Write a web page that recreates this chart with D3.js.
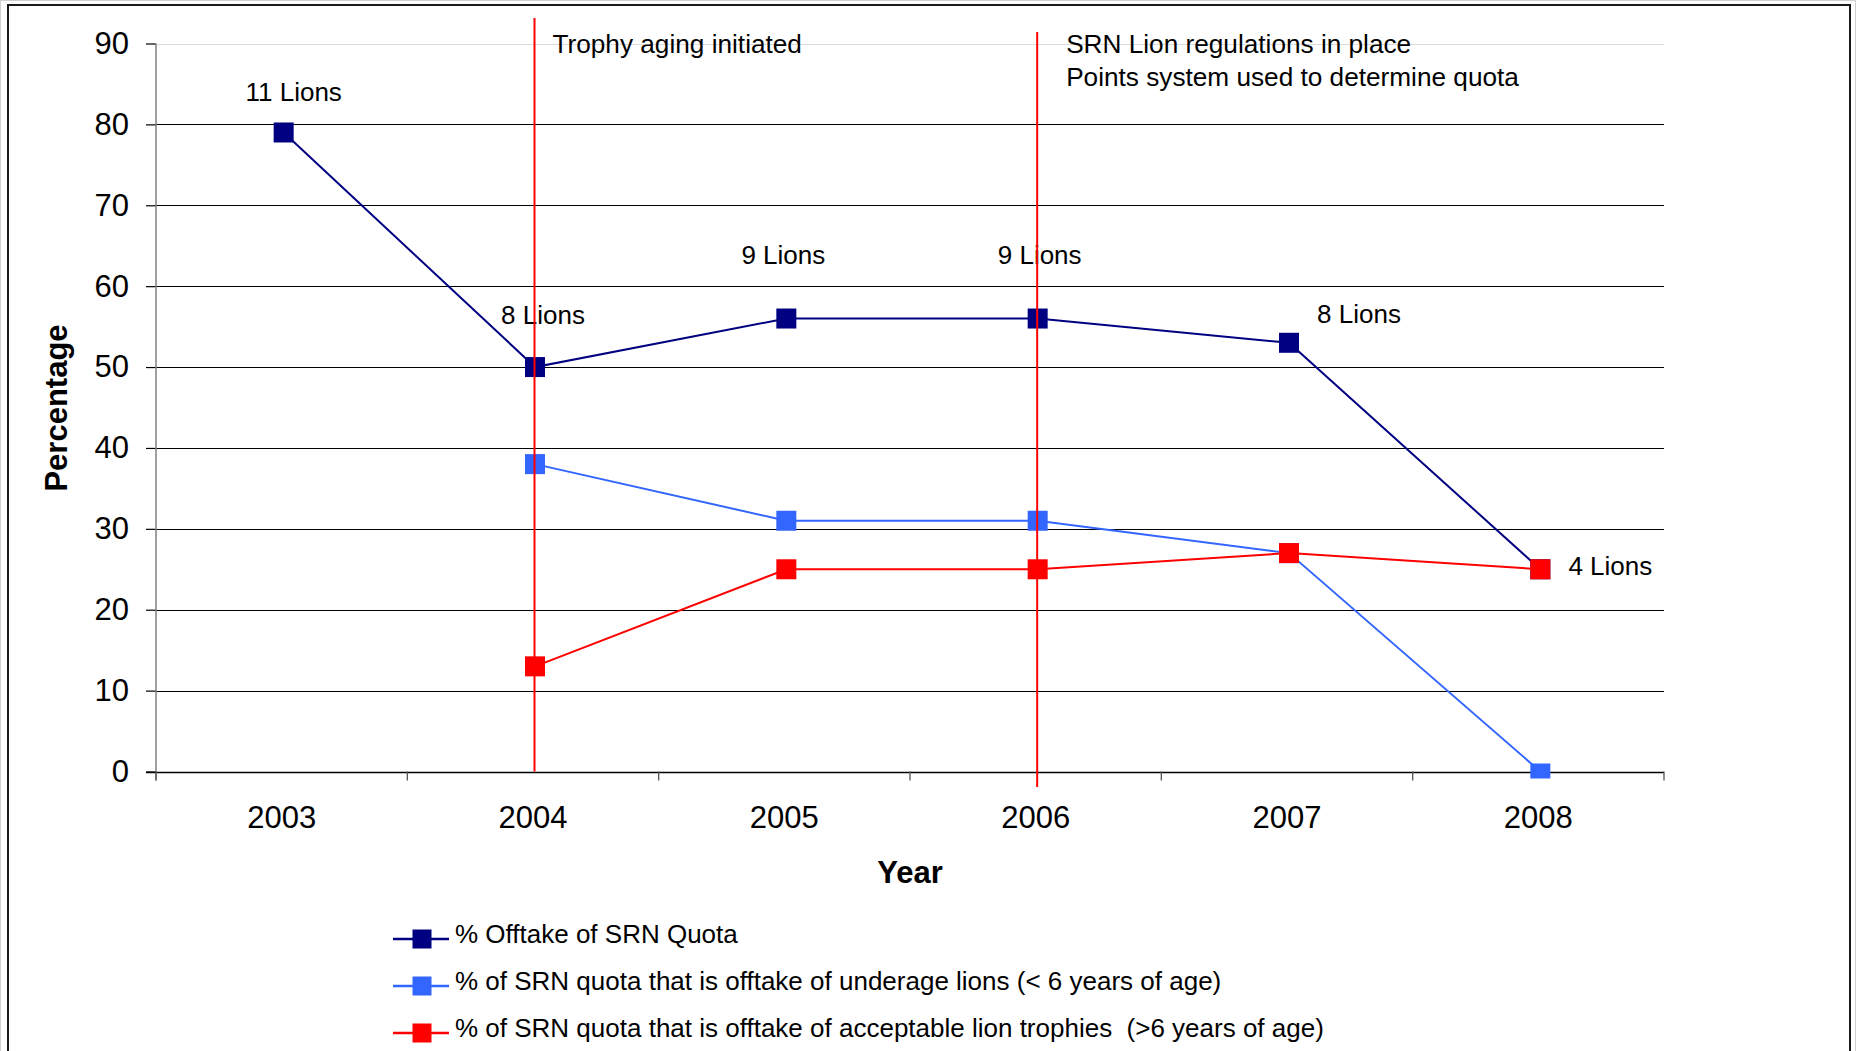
<!DOCTYPE html>
<html>
<head>
<meta charset="utf-8">
<script src="https://cdn.jsdelivr.net/npm/d3@7"></script>
<style>
  html, body { margin: 0; padding: 0; background: #fff; }
  svg { display: block; font-family: "Liberation Sans", Arial, sans-serif; }
  svg text { white-space: pre; }
</style>
</head>
<body>
<svg id="chart" width="1856" height="1051"></svg>
<script>
// ---- data ----
const years = ["2003", "2004", "2005", "2006", "2007", "2008"];
const yTicks = [0, 10, 20, 30, 40, 50, 60, 70, 80, 90];
const offtakeQuota = [79, 50, 56, 56, 53, 25];
const underageOfftake = [null, 38, 31, 31, 27, 0];
const trophyOfftake = [null, 13, 25, 25, 27, 25];
const lionCounts = ["11 Lions", "8 Lions", "9 Lions", "9 Lions", "8 Lions", "4 Lions"];
const seriesNames = [
  "% Offtake of SRN Quota",
  "% of SRN quota that is offtake of underage lions (< 6 years of age)",
  "% of SRN quota that is offtake of acceptable lion trophies  (>6 years of age)"
];
const eventYears = ["2004", "2006"];
const eventNotes = [["Trophy aging initiated"], ["SRN Lion regulations in place", "Points system used to determine quota"]];

(function () {
// ---- layout ----
const svg = d3.select("#chart");
const colors = ["#000080", "#3366FF", "#FF0000"];
const pLeft = 156, pRight = 1664, pTop = 43.5, pBottom = 771.5;
const markOff = 2;

const x = d3.scaleBand().domain(years).range([pLeft, pRight]).padding(0);
const cx = d => x(d) + x.bandwidth() / 2 + markOff;
const y = d3.scaleLinear().domain([0, 90]).range([pBottom, pTop]);

// frame
svg.append("rect").attr("x", 0.5).attr("y", 0.5).attr("width", 1855).attr("height", 1100)
  .attr("fill", "none").attr("stroke", "#d0d0d0").attr("stroke-width", 1);
svg.append("rect").attr("x", 8).attr("y", 5).attr("width", 1842).attr("height", 1100)
  .attr("fill", "none").attr("stroke", "#1a1a1a").attr("stroke-width", 2);

// gridlines
svg.append("g").selectAll("line").data(yTicks.filter(t => t > 0)).join("line")
  .attr("x1", pLeft).attr("x2", pRight)
  .attr("y1", d => Math.round(y(d)) + 0.5).attr("y2", d => Math.round(y(d)) + 0.5)
  .attr("stroke", d => d === 90 ? "#dcdcdc" : "#000").attr("stroke-width", 1.2);

// y axis
const yAxis = svg.append("g").attr("transform", `translate(${pLeft},0)`)
  .call(d3.axisLeft(y).tickValues(yTicks).tickSize(10).tickPadding(17).tickFormat(d3.format("d")));
yAxis.select(".domain").remove();
yAxis.selectAll(".tick line").attr("stroke", "#000").attr("stroke-width", 1.2);
yAxis.selectAll(".tick text").attr("font-size", 31).attr("fill", "#000")
  .attr("font-family", "'Liberation Sans', Arial, sans-serif");
svg.append("line").attr("x1", pLeft).attr("x2", pLeft).attr("y1", pTop).attr("y2", pBottom + 9)
  .attr("stroke", "#808080").attr("stroke-width", 1.5);

// x axis
svg.append("line").attr("x1", pLeft - 10).attr("x2", pRight).attr("y1", Math.round(pBottom) + 0.5).attr("y2", Math.round(pBottom) + 0.5)
  .attr("stroke", "#000").attr("stroke-width", 1.5);
const bounds = years.map(d => x(d)).concat([pRight]);
svg.append("g").selectAll("line").data(bounds).join("line")
  .attr("x1", d => d).attr("x2", d => d).attr("y1", pBottom).attr("y2", pBottom + 9)
  .attr("stroke", "#555").attr("stroke-width", 1.3);
svg.append("g").selectAll("text").data(years).join("text")
  .attr("x", d => x(d) + x.bandwidth() / 2).attr("y", 828)
  .attr("text-anchor", "middle").attr("font-size", 31).text(d => d);

// series
const series = [offtakeQuota, underageOfftake, trophyOfftake];
const line = d3.line().defined(d => d.v !== null).x(d => cx(d.year)).y(d => y(d.v));
const mk = 20;
series.forEach((vals, i) => {
  const pts = years.map((yr, j) => ({ year: yr, v: vals[j] }));
  const g = svg.append("g");
  g.append("path").datum(pts).attr("d", line).attr("fill", "none")
    .attr("stroke", colors[i]).attr("stroke-width", 2);
  g.selectAll("rect").data(pts.filter(d => d.v !== null)).join("rect")
    .attr("x", d => cx(d.year) - mk / 2)
    .attr("y", d => y(d.v) - (d.v === 0 ? 8 : mk / 2))
    .attr("width", mk).attr("height", d => d.v === 0 ? 15 : mk)
    .attr("fill", colors[i]);
});

// axis titles
svg.append("text").attr("x", (pLeft + pRight) / 2).attr("y", 883).attr("text-anchor", "middle")
  .attr("font-size", 31).attr("font-weight", "bold").text("Year");
svg.append("text").attr("transform", "translate(67,408) rotate(-90)").attr("text-anchor", "middle")
  .attr("font-size", 31).attr("font-weight", "bold").text("Percentage");

// lion count labels (offsets from Offtake points)
const labelOffsets = [[10, -31], [8, -43], [-3, -55], [2, -55], [70, -20], [70, 6]];
svg.append("g").selectAll("text").data(years).join("text")
  .attr("x", (d, i) => cx(d) + labelOffsets[i][0])
  .attr("y", (d, i) => y(offtakeQuota[i]) + labelOffsets[i][1])
  .attr("text-anchor", "middle").attr("font-size", 26).text((d, i) => lionCounts[i]);

// event lines
const eventTops = [18, 32];
const eventBottoms = [pBottom, 787];
eventYears.forEach((yr, i) => {
  const xv = x(yr) + x.bandwidth() / 2 + 1.5;
  svg.append("line").attr("x1", xv).attr("x2", xv).attr("y1", eventTops[i]).attr("y2", eventBottoms[i])
    .attr("stroke", "#FF0000").attr("stroke-width", 2);
  svg.append("g").selectAll("text").data(eventNotes[i]).join("text")
    .attr("x", xv + (i === 0 ? 18 : 29)).attr("y", (d, k) => 52.5 + k * 33)
    .attr("font-size", 26.2).text(d => d);
});

// legend
const legY = [939, 986, 1033];
const leg = svg.append("g");
seriesNames.forEach((name, i) => {
  leg.append("line").attr("x1", 393).attr("x2", 449).attr("y1", legY[i]).attr("y2", legY[i])
    .attr("stroke", colors[i]).attr("stroke-width", 2.5);
  leg.append("rect").attr("x", 422 - 9.5).attr("y", legY[i] - 9.5).attr("width", 19).attr("height", 19)
    .attr("fill", colors[i]);
  leg.append("text").attr("x", 455).attr("y", legY[i] + 4)
    .attr("font-size", 26).text(name);
});
})();
</script>
</body>
</html>
